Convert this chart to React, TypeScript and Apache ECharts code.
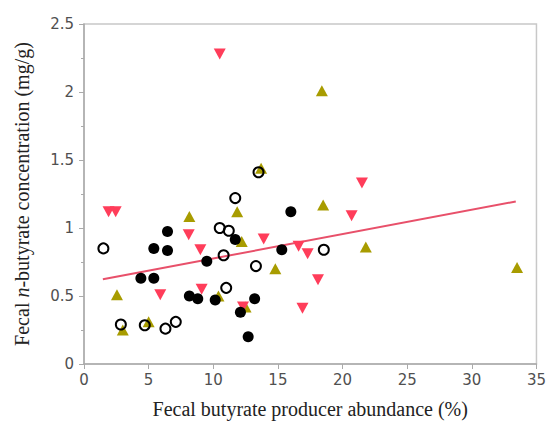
import React, { useEffect, useRef } from "react";
import * as echarts from "echarts";

const blackFilled: [number, number][] = [
  [4.4, 0.63], [5.4, 0.63], [5.4, 0.85], [6.46, 0.835], [6.46, 0.975],
  [8.15, 0.5], [8.8, 0.48], [9.5, 0.755], [10.15, 0.47], [11.7, 0.915],
  [12.1, 0.38], [12.7, 0.2], [13.2, 0.48], [15.3, 0.84], [16.0, 1.12],
];
const openCircles: [number, number][] = [
  [1.5, 0.85], [2.85, 0.29], [4.7, 0.285], [6.3, 0.26], [7.1, 0.31],
  [10.5, 1.0], [10.8, 0.8], [11.0, 0.56], [11.2, 0.98], [11.7, 1.22],
  [13.3, 0.72], [13.5, 1.41], [18.55, 0.84],
];
const oliveUp: [number, number][] = [
  [2.55, 0.51], [3.0, 0.25], [5.0, 0.31], [8.15, 1.085], [10.4, 0.5],
  [11.85, 1.12], [12.2, 0.9], [12.5, 0.42], [13.7, 1.44], [14.8, 0.7],
  [18.4, 2.01], [18.5, 1.17], [21.8, 0.86], [33.5, 0.71],
];
const redDown: [number, number][] = [
  [1.9, 1.12], [2.45, 1.12], [5.9, 0.51], [8.1, 0.95], [9.0, 0.84],
  [9.1, 0.55], [10.5, 2.28], [12.3, 0.42], [13.9, 0.92], [16.6, 0.865],
  [16.9, 0.41], [17.3, 0.81], [18.1, 0.62], [20.7, 1.09], [21.5, 1.33],
];
const trendLine: [number, number][] = [
  [1.46, 0.623], [33.4, 1.195],
];
const xTitle = "Fecal butyrate producer abundance (%)";

export default function App() {
  const ref = useRef<HTMLDivElement>(null);
  useEffect(() => {
    if (!ref.current) return;
    const chart = echarts.init(ref.current, null, { renderer: "svg" });
    const axisLabel = { fontFamily: "DejaVu Sans", fontSize: 15, color: "#505050" };
    chart.setOption({
      animation: false,
      grid: {
        left: 84, right: 11, top: 24, bottom: 59,
        show: true, borderColor: "#c8c8c8", borderWidth: 1.5, backgroundColor: "#fff",
      },
      xAxis: {
        type: "value", min: 0, max: 35, interval: 5,
        axisLine: { show: true, lineStyle: { color: "#aaa", width: 1.5 } },
        axisTick: { show: true, length: 5, lineStyle: { color: "#aaa" } },
        splitLine: { show: false },
        axisLabel: { ...axisLabel, margin: 8 },
        name: xTitle, nameLocation: "middle", nameGap: 35,
        nameTextStyle: { fontFamily: "Liberation Serif", fontSize: 20, color: "#222" },
      },
      yAxis: {
        type: "value", min: 0, max: 2.5, interval: 0.5,
        axisLine: { show: true, lineStyle: { color: "#aaa", width: 1.5 } },
        axisTick: { show: true, length: 5, lineStyle: { color: "#aaa" } },
        minorTick: { show: true, splitNumber: 2, length: 3, lineStyle: { color: "#aaa" } },
        splitLine: { show: false },
        axisLabel: { ...axisLabel, margin: 10 },
        name: "Fecal {i|n}-butyrate concentration (mg/g)",
        nameLocation: "middle", nameGap: 52,
        nameTextStyle: {
          fontFamily: "Liberation Serif", fontSize: 20, color: "#222",
          rich: { i: { fontFamily: "Liberation Serif", fontSize: 20, fontStyle: "italic", color: "#222" } },
        },
      },
      series: [
        {
          type: "line", data: trendLine, symbol: "none", z: 1,
          lineStyle: { color: "#e8506a", width: 2 },
        },
        {
          type: "scatter", data: oliveUp, symbol: "triangle", symbolSize: [12, 11], z: 2,
          itemStyle: { color: "#a89c00", opacity: 1 },
        },
        {
          type: "scatter", data: redDown, symbol: "triangle", symbolSize: [12, 11], symbolRotate: 180, z: 3,
          itemStyle: { color: "#ff3d5a", opacity: 1 },
        },
        {
          type: "scatter", data: blackFilled, symbol: "circle", symbolSize: 11, z: 4,
          itemStyle: { color: "#000", opacity: 1 },
        },
        {
          type: "scatter", data: openCircles, symbol: "circle", symbolSize: 10, z: 5,
          itemStyle: { color: "transparent", borderColor: "#000", borderWidth: 2, opacity: 1 },
        },
      ],
    });
    return () => chart.dispose();
  }, []);
  return <div ref={ref} style={{ width: 549, height: 424, position: "absolute", left: 0, top: 0 }} />;
}
